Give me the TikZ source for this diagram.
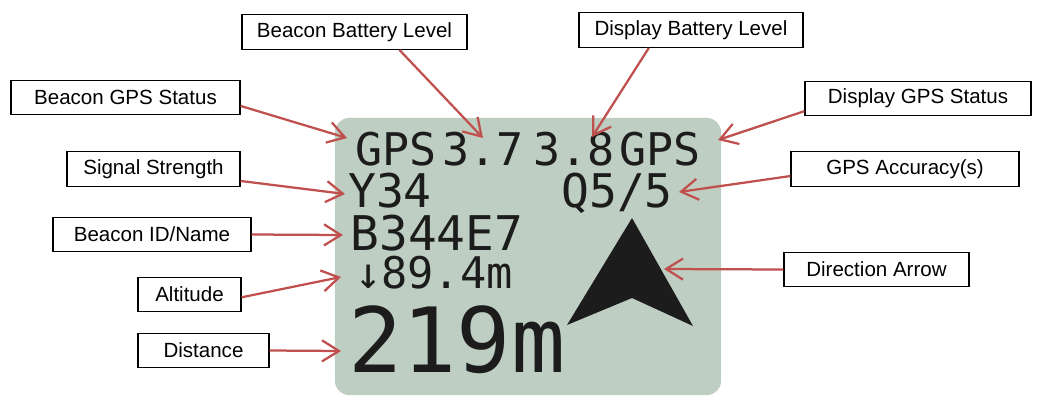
\documentclass[tikz,border=0pt]{standalone}
\usepackage{fontspec}
\setmainfont{Liberation Sans}
\newfontfamily\lcdfont{DejaVu Sans Mono}
\usepackage{xcolor}
\usepackage{tikz}
\usetikzlibrary{arrows.meta}
\definecolor{lcdgreen}{RGB}{191,206,194}
\definecolor{callred}{RGB}{192,80,77}
\definecolor{lcdink}{RGB}{28,28,28}

\begin{document}
\begin{tikzpicture}[x=0.025cm,y=-0.025cm,
    namebox/.style={draw,line width=0.8pt,fill=white,minimum height=0.87cm,inner sep=0pt,font=\fontsize{14.6}{17}\selectfont},
    lcdtxt/.style={anchor=base,inner sep=0pt,text height=0.73em,text depth=0pt,text=lcdink,font=\lcdfont\fontsize{#1}{#1}\selectfont},
    pointer/.style={draw=callred,line width=1.6pt,-{Straight Barb[length=12pt,width=15pt,line width=1.6pt]}}]
  \useasboundingbox (0,0) rectangle (1045,409);

  % the display
  \node[fill=lcdgreen,rounded corners=10pt,minimum width=9.65cm,minimum height=6.925cm,inner sep=0pt] (screen) at (528,256.5) {};
  \node[lcdtxt=32] (bgpstxt) at (396,165) {GPS};
  \node[lcdtxt=32] (bbattxt) at (483,165) {3.7};
  \node[lcdtxt=32] (dbattxt) at (574,165) {3.8};
  \node[lcdtxt=32] (dgpstxt) at (660,165) {GPS};
  \node[lcdtxt=33] (sigtxt) at (390,207) {Y34};
  \node[lcdtxt=33] (acctxt) at (617,207) {Q5/5};
  \node[lcdtxt=34] (idtxt) at (437,250) {B344E7};
  \node[lcdtxt=31] (alttxt) at (434,288) {↓89.4m};
  \node[lcdtxt=64] (disttxt) at (457,372) {219m};
  \fill[lcdink] (632,218) -- (567,325) -- (632,298) -- (693,326) -- cycle;

  % labels
  \node[namebox,minimum width=5.625cm] (bbat) at (354.5,32) {Beacon Battery Level};
  \node[namebox,minimum width=5.725cm] (bgps) at (125.5,97.5) {Beacon GPS Status};
  \node[namebox,minimum width=5.6cm] (dbat) at (691,30) {Display Battery Level};
  \node[namebox,minimum width=5.65cm] (dgps) at (918,98.5) {Display GPS Status};
  \node[namebox,minimum width=4.325cm] (sig) at (153.5,169) {Signal Strength};
  \node[namebox,minimum width=5.7cm] (acc) at (905,169) {GPS Accuracy(s)};
  \node[namebox,minimum width=4.95cm] (bid) at (152,234.5) {Beacon ID/Name};
  \node[namebox,minimum width=4.625cm] (dir) at (876.5,269.5) {Direction Arrow};
  \node[namebox,minimum width=2.575cm] (alt) at (189.5,294.5) {Altitude};
  \node[namebox,minimum width=3.275cm] (dist) at (203.5,350.5) {Distance};

  % arrow tips
  \coordinate (bbatpt) at (483,138);
  \coordinate (bgpspt) at (347,138);
  \coordinate (dbatpt) at (592,137);
  \coordinate (dgpspt) at (718,140);
  \coordinate (sigpt) at (345,194);
  \coordinate (accpt) at (679,192);
  \coordinate (bidpt) at (343,235);
  \coordinate (dirpt) at (664,269);
  \coordinate (altpt) at (341,277);
  \coordinate (distpt) at (341,351);

  \draw[pointer] ([xshift=32pt]bbat.south) -- (bbatpt);
  \draw[pointer] ([yshift=-6pt]bgps.east) -- (bgpspt);
  \draw[pointer] ([xshift=-30pt]dbat.south) -- (dbatpt);
  \draw[pointer] ([yshift=-9pt]dgps.west) -- (dgpspt);
  \draw[pointer] ([yshift=-8.5pt]sig.east) -- (sigpt);
  \draw[pointer] ([yshift=-5pt]acc.west) -- (accpt);
  \draw[pointer] (bid.east) -- (bidpt);
  \draw[pointer] (dir.west) -- (dirpt);
  \draw[pointer] ([yshift=-2pt]alt.east) -- (altpt);
  \draw[pointer] (dist.east) -- (distpt);
\end{tikzpicture}
\end{document}
